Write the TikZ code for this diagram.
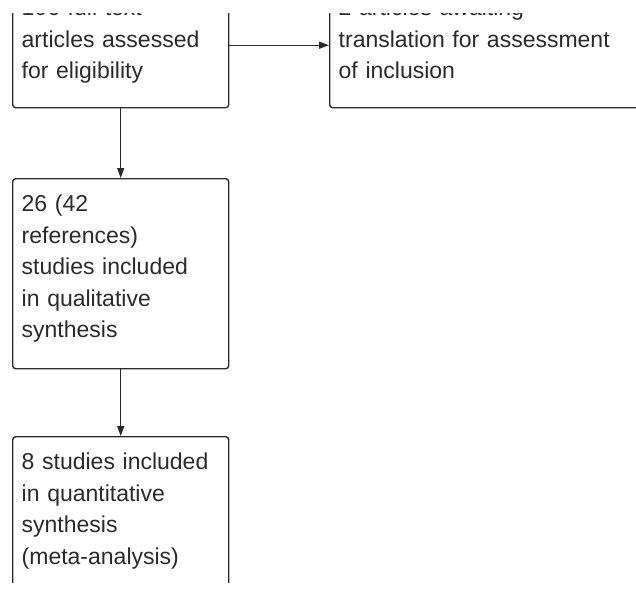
\documentclass[tikz,border=0pt]{standalone}
\usepackage{fontspec}
\setmainfont{Liberation Sans}
\usetikzlibrary{arrows.meta}
\definecolor{prgray}{HTML}{2A2A2A}
\tikzset{
  pbox/.style={
    rectangle, rounded corners=3pt, draw=prgray, text=prgray,
    line width=1.4pt, anchor=north west, align=left,
    inner xsep=9pt, inner ysep=0pt, text height=33pt, text depth=#1,
    font=\fontsize{23}{31.5}\selectfont
  },
  parr/.style={-{Triangle[length=10pt,width=7pt]}, line width=1.4pt, color=prgray},
}
\begin{document}
\begin{tikzpicture}[x=1pt, y=-1pt]
  \useasboundingbox (0,0) rectangle (636,592);
  \clip (0,13) rectangle (636,582);
  \node[pbox=92pt, text width=340pt] (await) at (329,-18)
    {2 articles awaiting\\translation for assessment\\of inclusion};
  \node[pbox=92pt, text width=198pt] (full) at (12,-18)
    {106 full text\\articles assessed\\for eligibility};
  \node[pbox=157pt, text width=198pt] (qual) at (12,178)
    {26 (42\\references)\\studies included\\in qualitative\\synthesis};
  \node[pbox=127pt, text width=198pt] (quant) at (12,436)
    {8 studies included\\in quantitative\\synthesis\\(meta-analysis)};
  \draw[parr] (full) -- (await);
  \draw[parr] (full) -- (qual);
  \draw[parr] (qual) -- (quant);
\end{tikzpicture}
\end{document}
